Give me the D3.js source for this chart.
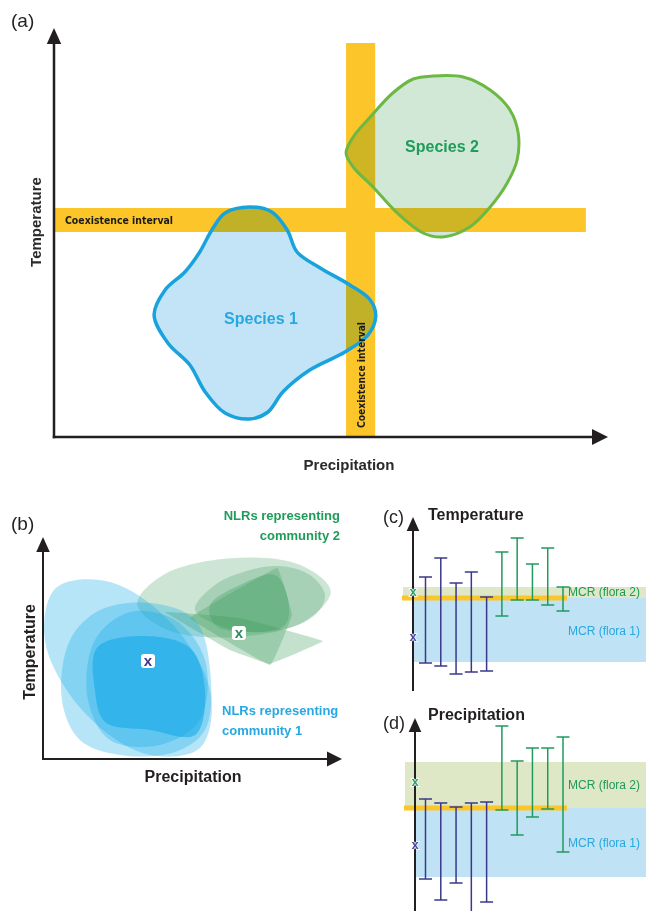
<!DOCTYPE html>
<html>
<head>
<meta charset="utf-8">
<script src="https://cdn.jsdelivr.net/npm/d3@7"></script>
<style>
  body { margin: 0; background: #fff; }
  svg { display: block; font-family: "Liberation Sans", Arial, sans-serif; }
</style>
</head>
<body>
<div id="fig"></div>
<script>
/* ---------- panel (a): niche shapes in abstract units (0-100) ---------- */
const species1 = [
  [42.4, 51.75], [44.2, 46.25], [48.4, 42.25], [53.8, 38], [57.5, 34.25], [58.5, 30.25],
  [57.1, 25.5], [52.9, 21.25], [46.5, 16.75], [41.6, 11.25], [38.9, 6.25], [35.6, 4.5],
  [31.1, 6], [27.5, 11.25], [24.7, 18], [20.7, 23.5], [18.2, 30.5], [20.2, 36.75],
  [23.8, 41.25], [26.5, 46.25], [28.7, 51.75], [31.1, 56], [35.6, 57.5], [39.6, 56.25]
];
const species2 = [
  [68.9, 90.25], [74.4, 90], [79.3, 86.75], [82.9, 81.75], [84.4, 76], [84.2, 69.25],
  [82.4, 63.5], [79.3, 57.5], [75.6, 52.5], [70.7, 50], [67.1, 51], [62.4, 56],
  [58, 62.5], [54.4, 67.5], [53.1, 71], [54.4, 75], [57.5, 80], [61.6, 86], [65.3, 89.5]
];
const coexPrecip = [53.1, 58.4];   // vertical band (x units)
const coexTemp = [51.25, 57.25];   // horizontal band (y units)
const bandExtentA = { precip: [0, 98.5], temp: [0, 96.7] };

/* ---------- panel (b): NLR shapes ---------- */
const nlrBlue = [
  [[52.3, 5], [34.3, 2.3], [13, 22.3], [0.7, 53.6], [4.3, 77.7], [22.3, 80.5], [43.7, 60.5], [56, 29.1]],
  [[9, 54.1], [19, 67.7], [35.7, 70.9], [50.7, 63.2], [55.7, 40.5], [54, 13.2], [44, 3.2], [25.7, 1.8], [12.3, 8.6], [6.3, 26.8]],
  [[17.3, 54.1], [29, 66.8], [44, 63.2], [54, 45], [52.3, 17.7], [39, 6.4], [22.3, 8.6], [15, 26.8]],
  [[18, 50.5], [32.3, 55.9], [49, 50.5], [54, 31.4], [50.7, 10.9], [35.7, 13.2], [20.7, 16.8], [17.3, 31.4]]
];
const nlrGreenRound = [
  [[95.9, 76.3], [87.1, 62.5], [64.6, 55.5], [41.5, 58.6], [31.4, 70.5], [40.2, 83.8], [62.7, 91.3], [85.8, 88.2]],
  [[50.7, 67.7], [57.3, 79.1], [69, 85.9], [79, 87.7], [89, 83.6], [94, 74.5], [90.7, 65.5], [79, 58.6], [64, 58.6]],
  [[55.7, 70], [65.7, 79.1], [77.3, 83.6], [81.7, 72.3], [80.7, 60.9], [69, 57.7], [57.3, 60.9]]
];
const nlrGreenPointed = [
  [[78, 86.8], [83, 65.5], [75.7, 42.7], [49, 64.1]],
  [[40.7, 66.8], [65.7, 64.1], [93.3, 53.6], [75.7, 43.2], [62.3, 49.5]]
];
const centroidBlue = [35, 44.5];
const centroidGreen = [65.3, 57.3];

/* ---------- panels (c) and (d): ranges per NLR ---------- */
const nlrIds = [1, 2, 3, 4, 5, 6, 7, 8, 9, 10];
const nlrFlora = [1, 1, 1, 1, 1, 2, 2, 2, 2, 2];
const tempLow = [13.5, 12, 8, 9, 9.5, 37, 45, 45, 42.5, 39.5];
const tempHigh = [56.5, 66, 53.5, 59, 46.5, 69, 76, 63, 71, 51.5];
const precLow = [15.5, 5, 13.5, -3, 4, 50, 37.5, 46.5, 50.5, 29];
const precHigh = [55.5, 53.5, 51.5, 53.5, 54, 92, 74.5, 81, 81, 86.5];
const tempMcr1 = [14, 46], tempMcr2 = [46, 51.5];
const precMcr1 = [16.5, 51], precMcr2 = [51, 74];
const tempMean = { flora1: 26.5, flora2: 49 };
const precMean = { flora1: 32.5, flora2: 64 };

const C = {
  ink: '#231f20', yellow: '#fcc62a',
  blueStroke: '#19a3dd', blueFill: '#c3e4f6', blueText: '#27a8e0',
  greenStroke: '#6cb844', greenFill: '#d2e8d6', greenText: '#1f9b5b',
  navy: '#3a3889', barGreen: '#1f9a5c', band2: '#dfe8c6', band1: '#bfe2f5'
};

const svg = d3.select('#fig').append('svg').attr('width', 646).attr('height', 911);

function arrowAxes(g, ox, oy, topY, rightX, w, head) {
  g.append('line').attr('x1', ox).attr('y1', oy + w / 2).attr('x2', ox).attr('y2', topY + head)
    .attr('stroke', C.ink).attr('stroke-width', w);
  g.append('path').attr('d', `M${ox},${topY}L${ox - head * 0.45},${topY + head}L${ox + head * 0.45},${topY + head}Z`)
    .attr('fill', C.ink);
  if (rightX != null) {
    g.append('line').attr('x1', ox - w / 2).attr('y1', oy).attr('x2', rightX - head).attr('y2', oy)
      .attr('stroke', C.ink).attr('stroke-width', w);
    g.append('path').attr('d', `M${rightX},${oy}L${rightX - head},${oy - head * 0.5}L${rightX - head},${oy + head * 0.5}Z`)
      .attr('fill', C.ink);
  }
}

/* ================= panel (a) ================= */
const xA = d3.scaleLinear().domain([0, 100]).range([54, 604]);
const yA = d3.scaleLinear().domain([0, 100]).range([437, 37]);
const gA = svg.append('g');
const blobA = d3.line().x(d => xA(d[0])).y(d => yA(d[1])).curve(d3.curveCatmullRomClosed.alpha(0.5));

gA.append('text').attr('x', 11).attr('y', 27).attr('font-size', 19).attr('fill', C.ink).text('(a)');

gA.append('rect').attr('x', xA(coexPrecip[0])).attr('width', xA(coexPrecip[1]) - xA(coexPrecip[0]))
  .attr('y', yA(bandExtentA.precip[1])).attr('height', yA(0) - yA(bandExtentA.precip[1])).attr('fill', C.yellow);
gA.append('rect').attr('x', xA(0)).attr('width', xA(bandExtentA.temp[1]) - xA(0))
  .attr('y', yA(coexTemp[1])).attr('height', yA(coexTemp[0]) - yA(coexTemp[1])).attr('fill', C.yellow);

[[species1, C.blueFill, C.blueStroke, 3.5], [species2, C.greenFill, C.greenStroke, 3]].forEach(([pts, fill, stroke, sw]) => {
  gA.append('path').attr('d', blobA(pts)).attr('fill', fill).style('mix-blend-mode', 'multiply');
  gA.append('path').attr('d', blobA(pts)).attr('fill', 'none').attr('stroke', stroke).attr('stroke-width', sw);
});

gA.append('text').attr('x', 65).attr('y', yA((coexTemp[0] + coexTemp[1]) / 2) + 4)
  .attr('font-family', '"Liberation Sans Narrow", "DejaVu Sans Condensed", sans-serif')
  .attr('font-weight', 'bold').attr('font-size', 11).attr('textLength', 108).attr('lengthAdjust', 'spacingAndGlyphs')
  .attr('fill', '#1a1a1a').text('Coexistence interval');
gA.append('text').attr('transform', `translate(${xA((coexPrecip[0] + coexPrecip[1]) / 2) + 4},428)rotate(-90)`)
  .attr('font-family', '"Liberation Sans Narrow", "DejaVu Sans Condensed", sans-serif')
  .attr('font-weight', 'bold').attr('font-size', 11).attr('textLength', 106).attr('lengthAdjust', 'spacingAndGlyphs')
  .attr('fill', '#1a1a1a').text('Coexistence interval');

gA.append('text').attr('x', 261).attr('y', 324).attr('text-anchor', 'middle').attr('font-size', 16)
  .attr('font-weight', 'bold').attr('fill', C.blueText).text('Species 1');
gA.append('text').attr('x', 442).attr('y', 152).attr('text-anchor', 'middle').attr('font-size', 16)
  .attr('font-weight', 'bold').attr('fill', C.greenText).text('Species 2');

arrowAxes(gA, xA(0), yA(0), 28, 608, 2.5, 16);
gA.append('text').attr('transform', 'translate(41,222)rotate(-90)').attr('text-anchor', 'middle')
  .attr('font-size', 15).attr('font-weight', 'bold').attr('fill', '#2a2a2a').text('Temperature');
gA.append('text').attr('x', 349).attr('y', 470).attr('text-anchor', 'middle')
  .attr('font-size', 15).attr('font-weight', 'bold').attr('fill', '#2a2a2a').text('Precipitation');

/* ================= panel (b) ================= */
const xB = d3.scaleLinear().domain([0, 100]).range([43, 343]);
const yB = d3.scaleLinear().domain([0, 100]).range([759, 539]);
const gB = svg.append('g');
const blobB = d3.line().x(d => xB(d[0])).y(d => yB(d[1])).curve(d3.curveCatmullRomClosed.alpha(0.5));
const polyB = d3.line().x(d => xB(d[0])).y(d => yB(d[1])).curve(d3.curveCardinalClosed.tension(0.85));

gB.append('text').attr('x', 11).attr('y', 530).attr('font-size', 19).attr('fill', C.ink).text('(b)');

gB.selectAll('.nlr-green').data(nlrGreenRound).join('path').attr('class', 'nlr-green')
  .attr('d', blobB).attr('fill', '#3a9a5c').attr('fill-opacity', (d, i) => i === 2 ? 0.32 : 0.26);
gB.selectAll('.nlr-green-pt').data(nlrGreenPointed).join('path').attr('class', 'nlr-green-pt')
  .attr('d', polyB).attr('fill', '#3a9a5c').attr('fill-opacity', 0.3);
gB.selectAll('.nlr-blue').data(nlrBlue).join('path').attr('class', 'nlr-blue')
  .attr('d', blobB)
  .attr('fill', '#0fa8e8').attr('fill-opacity', (d, i) => i === 3 ? 0.55 : 0.3);

[[centroidBlue, C.navy], [centroidGreen, '#2b8a57']].forEach(([c, col]) => {
  gB.append('rect').attr('x', xB(c[0]) - 7).attr('y', yB(c[1]) - 7).attr('width', 14).attr('height', 14)
    .attr('rx', 3).attr('fill', '#fff');
  gB.append('text').attr('x', xB(c[0])).attr('y', yB(c[1]) + 5).attr('text-anchor', 'middle')
    .attr('font-size', 15).attr('font-weight', 'bold').attr('fill', col).text('x');
});

gB.append('text').attr('text-anchor', 'end').attr('font-size', 13).attr('font-weight', 'bold').attr('fill', C.greenText)
  .selectAll('tspan').data(['NLRs representing', 'community 2']).join('tspan')
  .attr('x', 340).attr('y', (d, i) => 520 + i * 20).text(d => d);
gB.append('text').attr('text-anchor', 'start').attr('font-size', 13).attr('font-weight', 'bold').attr('fill', C.blueText)
  .selectAll('tspan').data(['NLRs representing', 'community 1']).join('tspan')
  .attr('x', 222).attr('y', (d, i) => 715 + i * 20).text(d => d);

arrowAxes(gB, xB(0), yB(0), 537, 342, 2, 15);
gB.append('text').attr('transform', 'translate(35,652)rotate(-90)').attr('text-anchor', 'middle')
  .attr('font-size', 16).attr('font-weight', 'bold').attr('fill', C.ink).text('Temperature');
gB.append('text').attr('x', 193).attr('y', 782).attr('text-anchor', 'middle')
  .attr('font-size', 16).attr('font-weight', 'bold').attr('fill', C.ink).text('Precipitation');

/* ================= panels (c) and (d) ================= */
const xR = d3.scalePoint().domain(nlrIds).range([425.5, 563]);

function rangePanel(opts) {
  const { y, low, high, mcr1, mcr2, mean, label, title, axisX, tipY, bottomY, tag, tagY, titleY } = opts;
  const g = svg.append('g');
  g.append('rect').attr('x', axisX - 10).attr('width', 646 - axisX + 10)
    .attr('y', y(mcr2[1])).attr('height', y(mcr2[0]) - y(mcr2[1])).attr('fill', C.band2);
  g.append('rect').attr('x', axisX).attr('width', 646 - axisX)
    .attr('y', y(mcr1[1])).attr('height', y(mcr1[0]) - y(mcr1[1])).attr('fill', C.band1);
  g.append('line').attr('x1', axisX - 11).attr('x2', 567).attr('y1', y(mcr1[1])).attr('y2', y(mcr1[1]))
    .attr('stroke', C.yellow).attr('stroke-width', 5);

  const bars = g.selectAll('.bar').data(nlrIds).join('g').attr('class', 'bar')
    .attr('stroke', (d, i) => nlrFlora[i] === 1 ? C.navy : C.barGreen).attr('stroke-width', 1.5);
  bars.append('line').attr('x1', d => xR(d)).attr('x2', d => xR(d))
    .attr('y1', (d, i) => y(low[i])).attr('y2', (d, i) => y(high[i]));
  bars.append('line').attr('x1', d => xR(d) - 6.5).attr('x2', d => xR(d) + 6.5)
    .attr('y1', (d, i) => y(low[i])).attr('y2', (d, i) => y(low[i]));
  bars.append('line').attr('x1', d => xR(d) - 6.5).attr('x2', d => xR(d) + 6.5)
    .attr('y1', (d, i) => y(high[i])).attr('y2', (d, i) => y(high[i]));

  arrowAxes(g, axisX, bottomY, tipY, null, 2, 14);
  [[mean.flora2, '#2aa070'], [mean.flora1, '#4a48a0']].forEach(([v, col]) => {
    g.append('text').attr('x', axisX).attr('y', y(v) + 4).attr('text-anchor', 'middle')
      .attr('font-size', 13).attr('font-weight', 'bold').attr('fill', col)
      .attr('stroke', '#fff').attr('stroke-width', 1.5).attr('paint-order', 'stroke').text('x');
  });

  g.append('text').attr('x', 568).attr('y', y((mcr2[0] + mcr2[1]) / 2) + 4 + (tag === 'c' ? -1 : 0)).attr('font-size', 12)
    .attr('fill', C.barGreen).text('MCR (flora 2)');
  g.append('text').attr('x', 568).attr('y', y(label.flora1Y) + 4).attr('font-size', 12)
    .attr('fill', C.blueText).text('MCR (flora 1)');

  g.append('text').attr('x', 383).attr('y', tagY).attr('font-size', 18).attr('fill', C.ink).text(`(${tag})`);
  g.append('text').attr('x', 428).attr('y', titleY).attr('font-size', 16).attr('font-weight', 'bold')
    .attr('fill', C.ink).text(title);
}

const yC = d3.scaleLinear().domain([0, 85]).range([690, 520]);
rangePanel({ y: yC, low: tempLow, high: tempHigh, mcr1: tempMcr1, mcr2: tempMcr2, mean: tempMean,
  label: { flora1Y: 29.5 }, title: 'Temperature', axisX: 413, tipY: 517, bottomY: 690, tag: 'c', tagY: 523, titleY: 520 });

const yD = d3.scaleLinear().domain([0, 95]).range([910, 720]);
rangePanel({ y: yD, low: precLow, high: precHigh, mcr1: precMcr1, mcr2: precMcr2, mean: precMean,
  label: { flora1Y: 33.5 }, title: 'Precipitation', axisX: 415, tipY: 718, bottomY: 915, tag: 'd', tagY: 729, titleY: 720 });
</script>
</body>
</html>
